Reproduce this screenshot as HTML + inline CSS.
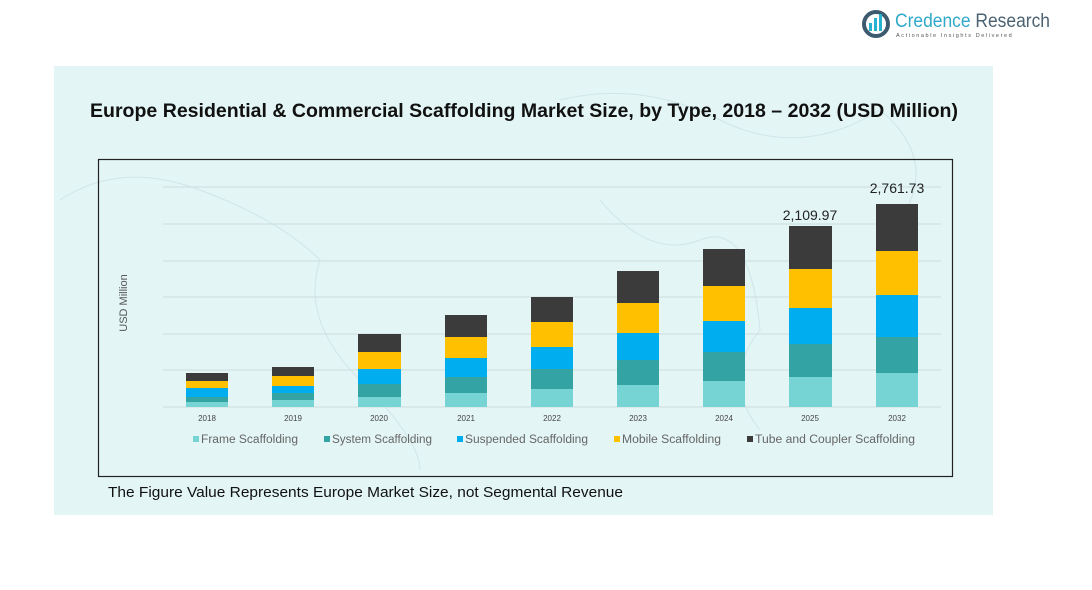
<!DOCTYPE html>
<html><head><meta charset="utf-8"><style>
body{margin:0;background:#fff;width:1092px;height:585px;overflow:hidden;font-family:"Liberation Sans",sans-serif}
</style></head><body>
<svg width="1092" height="585" xmlns="http://www.w3.org/2000/svg" font-family="Liberation Sans, sans-serif">
<rect x="54" y="66" width="939" height="449" fill="#e3f5f5"/>
<g fill="none" stroke="#cfe6ea" stroke-width="1">
<path d="M60 200 Q120 160 200 190 T320 260 Q300 320 360 380 T420 470"/>
<path d="M560 100 Q640 80 720 120 T880 110 Q940 160 900 220"/>
<path d="M600 200 Q650 260 700 240 T760 330 Q720 380 760 430"/>
</g>
<text x="90" y="117" textLength="868" lengthAdjust="spacingAndGlyphs" font-size="19" font-weight="bold" fill="#111">Europe Residential &amp; Commercial Scaffolding Market Size, by Type, 2018 – 2032 (USD Million)</text>
<rect x="98.5" y="159.5" width="854" height="317" fill="none" stroke="#222" stroke-width="1.2"/>
<g stroke="#cfdcdc" stroke-width="1">
<line x1="163" x2="941" y1="187" y2="187"/><line x1="163" x2="941" y1="224" y2="224"/>
<line x1="163" x2="941" y1="261" y2="261"/><line x1="163" x2="941" y1="297" y2="297"/>
<line x1="163" x2="941" y1="334" y2="334"/><line x1="163" x2="941" y1="370" y2="370"/>
<line x1="163" x2="941" y1="407" y2="407"/></g>
<text transform="translate(127,303) rotate(-90)" text-anchor="middle" font-size="11" fill="#555">USD Million</text>
<g id="bars">
<g><rect x="186" y="373" width="42" height="8" fill="#3b3b3b"/><rect x="186" y="381" width="42" height="7" fill="#ffc000"/><rect x="186" y="388" width="42" height="9" fill="#00aeef"/><rect x="186" y="397" width="42" height="5" fill="#33a3a3"/><rect x="186" y="402" width="42" height="5" fill="#76d4d4"/></g>
<g><rect x="272" y="367" width="42" height="9" fill="#3b3b3b"/><rect x="272" y="376" width="42" height="10" fill="#ffc000"/><rect x="272" y="386" width="42" height="7" fill="#00aeef"/><rect x="272" y="393" width="42" height="7" fill="#33a3a3"/><rect x="272" y="400" width="42" height="7" fill="#76d4d4"/></g>
<g><rect x="358" y="334" width="43" height="18" fill="#3b3b3b"/><rect x="358" y="352" width="43" height="17" fill="#ffc000"/><rect x="358" y="369" width="43" height="15" fill="#00aeef"/><rect x="358" y="384" width="43" height="13" fill="#33a3a3"/><rect x="358" y="397" width="43" height="10" fill="#76d4d4"/></g>
<g><rect x="445" y="315" width="42" height="22" fill="#3b3b3b"/><rect x="445" y="337" width="42" height="21" fill="#ffc000"/><rect x="445" y="358" width="42" height="19" fill="#00aeef"/><rect x="445" y="377" width="42" height="16" fill="#33a3a3"/><rect x="445" y="393" width="42" height="14" fill="#76d4d4"/></g>
<g><rect x="531" y="297" width="42" height="25" fill="#3b3b3b"/><rect x="531" y="322" width="42" height="25" fill="#ffc000"/><rect x="531" y="347" width="42" height="22" fill="#00aeef"/><rect x="531" y="369" width="42" height="20" fill="#33a3a3"/><rect x="531" y="389" width="42" height="18" fill="#76d4d4"/></g>
<g><rect x="617" y="271" width="42" height="32" fill="#3b3b3b"/><rect x="617" y="303" width="42" height="30" fill="#ffc000"/><rect x="617" y="333" width="42" height="27" fill="#00aeef"/><rect x="617" y="360" width="42" height="25" fill="#33a3a3"/><rect x="617" y="385" width="42" height="22" fill="#76d4d4"/></g>
<g><rect x="703" y="249" width="42" height="37" fill="#3b3b3b"/><rect x="703" y="286" width="42" height="35" fill="#ffc000"/><rect x="703" y="321" width="42" height="31" fill="#00aeef"/><rect x="703" y="352" width="42" height="29" fill="#33a3a3"/><rect x="703" y="381" width="42" height="26" fill="#76d4d4"/></g>
<g><rect x="789" y="226" width="43" height="43" fill="#3b3b3b"/><rect x="789" y="269" width="43" height="39" fill="#ffc000"/><rect x="789" y="308" width="43" height="36" fill="#00aeef"/><rect x="789" y="344" width="43" height="33" fill="#33a3a3"/><rect x="789" y="377" width="43" height="30" fill="#76d4d4"/></g>
<g><rect x="876" y="204" width="42" height="47" fill="#3b3b3b"/><rect x="876" y="251" width="42" height="44" fill="#ffc000"/><rect x="876" y="295" width="42" height="42" fill="#00aeef"/><rect x="876" y="337" width="42" height="36" fill="#33a3a3"/><rect x="876" y="373" width="42" height="34" fill="#76d4d4"/></g>
</g>
<text x="810" y="220" text-anchor="middle" font-size="14" fill="#222">2,109.97</text>
<text x="897" y="193" text-anchor="middle" font-size="14" fill="#222">2,761.73</text>
<g font-size="8" fill="#444" text-anchor="middle">
<text x="207" y="421">2018</text><text x="293" y="421">2019</text><text x="379" y="421">2020</text><text x="466" y="421">2021</text><text x="552" y="421">2022</text><text x="638" y="421">2023</text><text x="724" y="421">2024</text><text x="810" y="421">2025</text><text x="897" y="421">2032</text></g>
<g font-size="11.5" fill="#666">
<rect x="193" y="436" width="6" height="6" fill="#76d4d4"/><text x="201" y="443" textLength="97" lengthAdjust="spacingAndGlyphs">Frame Scaffolding</text>
<rect x="324" y="436" width="6" height="6" fill="#33a3a3"/><text x="332" y="443" textLength="100" lengthAdjust="spacingAndGlyphs">System Scaffolding</text>
<rect x="457" y="436" width="6" height="6" fill="#00aeef"/><text x="465" y="443" textLength="123" lengthAdjust="spacingAndGlyphs">Suspended Scaffolding</text>
<rect x="614" y="436" width="6" height="6" fill="#ffc000"/><text x="622" y="443" textLength="99" lengthAdjust="spacingAndGlyphs">Mobile Scaffolding</text>
<rect x="747" y="436" width="6" height="6" fill="#3b3b3b"/><text x="755" y="443" textLength="160" lengthAdjust="spacingAndGlyphs">Tube and Coupler Scaffolding</text>
</g>
<text x="108" y="497" font-size="15" fill="#111" textLength="515" lengthAdjust="spacingAndGlyphs">The Figure Value Represents Europe Market Size, not Segmental Revenue</text>
<circle cx="876" cy="24" r="12" fill="none" stroke="#3d5a6e" stroke-width="4"/>
<rect x="869" y="23" width="3" height="8" fill="#27b3cf"/><rect x="874" y="18" width="3" height="13" fill="#27b3cf"/><rect x="879" y="14" width="3" height="17" fill="#27b3cf"/>
<text x="895" y="27" font-size="19" fill="#2fa9c9" textLength="155" lengthAdjust="spacingAndGlyphs">Credence <tspan fill="#4b6272">Research</tspan></text>
<text x="896" y="37" font-size="5.5" fill="#555" letter-spacing="1.6">Actionable Insights Delivered</text>
</svg>
</body></html>
